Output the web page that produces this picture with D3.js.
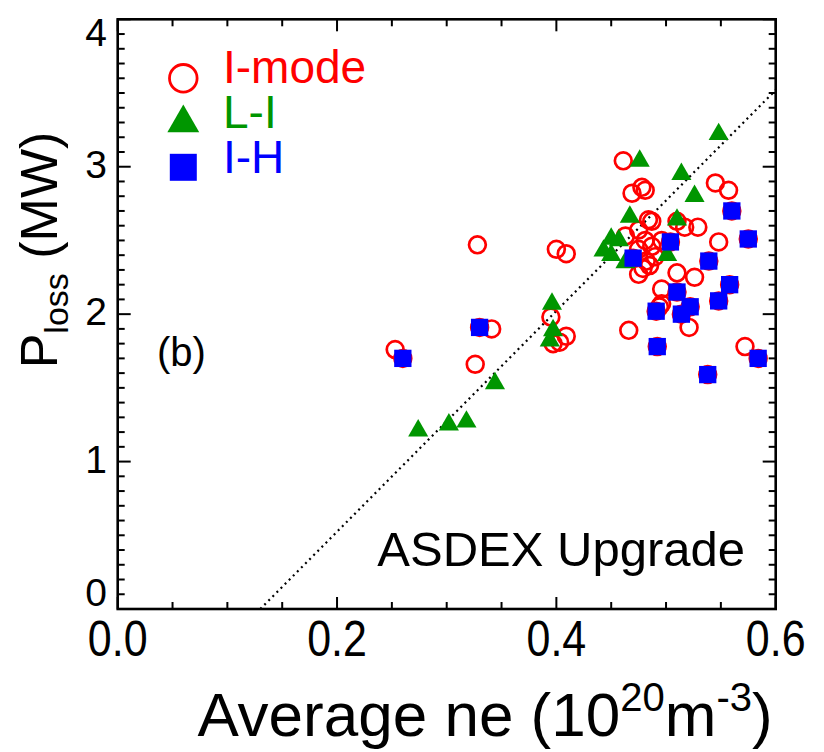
<!DOCTYPE html>
<html>
<head>
<meta charset="utf-8">
<script src="https://cdn.jsdelivr.net/npm/d3@7"></script>
<style>
  html, body { margin: 0; padding: 0; background: #fff; }
  svg { display: block; }
</style>
</head>
<body>
<svg id="chart" width="824" height="752"></svg>
<script>
// ---- Data ----
const imodeNe = [0.253,0.341,0.328,0.326,0.400,0.409,0.395,0.409,0.403,0.397,
  0.461,0.469,0.478,0.481,0.545,0.557,0.548,0.529,0.517,0.510,
  0.484,0.487,0.475,0.463,0.481,0.487,0.490,0.475,0.482,0.485,
  0.479,0.475,0.510,0.526,0.496,0.496,0.494,0.521,0.466,0.572,0.496,
  0.330,0.260,0.470,0.504,0.560,0.575,0.539,0.510,0.491,0.522,0.514,0.558,0.548,0.492,0.538,0.584];
const imodeP = [1.76,1.90,2.47,1.66,2.44,2.41,1.98,1.85,1.81,1.80,
  3.04,2.82,2.86,2.84,2.89,2.84,2.49,2.59,2.59,2.63,
  2.64,2.63,2.57,2.53,2.50,2.46,2.39,2.44,2.36,2.33,
  2.31,2.27,2.28,2.25,2.17,2.07,2.05,1.91,1.89,1.78,2.50,
  1.91,1.70,2.38,2.49,2.70,2.51,2.36,2.15,2.02,2.05,2.00,2.20,2.09,1.78,1.59,1.70];
const liNe = [0.548,0.476,0.514,0.526,0.467,0.510,0.450,0.457,0.443,0.450,
  0.463,0.501,0.396,0.397,0.394,0.344,0.274,0.302,0.318];
const liP = [3.22,3.04,2.95,2.80,2.66,2.64,2.51,2.50,2.43,2.40,
  2.35,2.40,2.07,1.89,1.82,1.53,1.21,1.25,1.27];
const ihNe = [0.330,0.260,0.470,0.504,0.560,0.575,0.539,0.510,0.491,0.522,0.514,0.558,0.548,0.492,0.538,0.584];
const ihP = [1.91,1.70,2.38,2.49,2.70,2.51,2.36,2.15,2.02,2.05,2.00,2.20,2.09,1.78,1.59,1.70];
const scalingNe = [0.130, 0.6];
const scalingP = [0, 3.52];
const xTickValues = [0.0, 0.2, 0.4, 0.6];
const xTickLabels = ["0.0", "0.2", "0.4", "0.6"];
const yTickValues = [0, 1, 2, 3, 4];
const yTickLabels = ["0", "1", "2", "3", "4"];
const legendLabels = ["I-mode", "L-I", "I-H"];
const seriesColors = ["#ff0000", "#009600", "#0000ff"];

(function draw() {
const svg = d3.select("#chart");
const pL = 117.7, pR = 775.7, pT = 19.3, pB = 609;
const x = d3.scaleLinear().domain([0, 0.6]).range([pL, pR]);
const y = d3.scaleLinear().domain([0, 4]).range([pB, pT]);
const FONT = "Liberation Sans, Arial, sans-serif";

svg.append("defs").append("clipPath").attr("id", "clip")
  .append("rect").attr("x", pL).attr("y", pT).attr("width", pR - pL).attr("height", pB - pT);

const plot = svg.append("g");

// scaling law dotted line
plot.append("path")
  .attr("clip-path", "url(#clip)")
  .datum(scalingNe.map((d, i) => [d, scalingP[i]]))
  .attr("d", d3.line().x(d => x(d[0])).y(d => y(d[1])))
  .attr("fill", "none").attr("stroke", "#000").attr("stroke-width", 2.2)
  .attr("stroke-dasharray", "2 3.8");

// I-mode circles
plot.append("g").selectAll("circle").data(imodeNe.map((d, i) => [d, imodeP[i]]))
  .join("circle")
  .attr("cx", d => x(d[0])).attr("cy", d => y(d[1])).attr("r", 8.4)
  .attr("fill", "none").attr("stroke", seriesColors[0]).attr("stroke-width", 2.7);

// L-I triangles
const triSym = d3.symbol().type(d3.symbolTriangle).size(175);
plot.append("g").selectAll("path").data(liNe.map((d, i) => [d, liP[i]]))
  .join("path")
  .attr("transform", d => `translate(${x(d[0])},${y(d[1])})`)
  .attr("d", triSym).attr("fill", seriesColors[1]);

// I-H squares
const sqSym = d3.symbol().type(d3.symbolSquare).size(300);
plot.append("g").selectAll("path").data(ihNe.map((d, i) => [d, ihP[i]]))
  .join("path")
  .attr("transform", d => `translate(${x(d[0])},${y(d[1])})`)
  .attr("d", sqSym).attr("fill", seriesColors[2]);

// ---- Axes (ticks inside, on all four sides) ----
const axG = svg.append("g").attr("stroke", "#000").attr("stroke-width", 2);
const xMinor = d3.range(0, 0.6001, 0.05);
const yMinor = d3.range(0, 4.0001, 0.1);
xMinor.forEach(v => {
  const major = Math.abs(Math.round(v / 0.2) * 0.2 - v) < 1e-6;
  const len = major ? 12 : 7;
  axG.append("line").attr("x1", x(v)).attr("x2", x(v)).attr("y1", pB).attr("y2", pB - len);
  axG.append("line").attr("x1", x(v)).attr("x2", x(v)).attr("y1", pT).attr("y2", pT + len);
});
yMinor.forEach(v => {
  const major = Math.abs(Math.round(v) - v) < 1e-6;
  const len = major ? 13 : 7;
  axG.append("line").attr("x1", pL).attr("x2", pL + len).attr("y1", y(v)).attr("y2", y(v));
  axG.append("line").attr("x1", pR).attr("x2", pR - len).attr("y1", y(v)).attr("y2", y(v));
});
svg.append("rect").attr("x", pL).attr("y", pT).attr("width", pR - pL).attr("height", pB - pT)
  .attr("fill", "none").attr("stroke", "#000").attr("stroke-width", 2.6);

// y tick labels
svg.append("g").selectAll("text").data(yTickValues)
  .join("text")
  .attr("x", 107).attr("y", d => Math.min(Math.max(y(d) - 3, pT + 13), pB - 17))
  .attr("dy", "0.36em")
  .attr("text-anchor", "end")
  .attr("font-family", FONT)
  .attr("font-size", 39)
  .text((d, i) => yTickLabels[i]);

// x tick labels
svg.append("g").selectAll("text").data(xTickValues)
  .join("text")
  .attr("transform", d => `translate(${x(d)},656) scale(0.86,1)`)
  .attr("text-anchor", "middle")
  .attr("font-family", FONT)
  .attr("font-size", 50)
  .text((d, i) => xTickLabels[i]);

// x title
const xt = svg.append("text")
  .attr("transform", "translate(485,736)")
  .attr("text-anchor", "middle")
  .attr("font-family", FONT)
  .attr("font-size", 62);
xt.append("tspan").text("Average ne (10");
xt.append("tspan").attr("dy", -25).attr("font-size", 40).text("20");
xt.append("tspan").attr("dy", 25).text("m");
xt.append("tspan").attr("dy", -25).attr("font-size", 40).text("-3");
xt.append("tspan").attr("dy", 25).text(")");

// y title
const yt = svg.append("text")
  .attr("transform", "translate(57,250) rotate(-90)")
  .attr("text-anchor", "middle")
  .attr("font-family", FONT)
  .attr("font-size", 52);
yt.append("tspan").text("P");
yt.append("tspan").attr("dy", 11).attr("font-size", 34).text("loss");
yt.append("tspan").attr("dy", -11).text(" (MW)");

// legend
const lg = svg.append("g");
lg.append("circle").attr("cx", 183.3).attr("cy", 78.3).attr("r", 13.8)
  .attr("fill", "none").attr("stroke", seriesColors[0]).attr("stroke-width", 2.8);
lg.append("path").attr("transform", "translate(183.3,123)")
  .attr("d", d3.symbol().type(d3.symbolTriangle).size(440)).attr("fill", seriesColors[1]);
lg.append("path").attr("transform", "translate(183.3,167.3)")
  .attr("d", d3.symbol().type(d3.symbolSquare).size(729)).attr("fill", seriesColors[2]);
const lgY = [83.3, 128.3, 172.7];
legendLabels.forEach((t, i) => {
  lg.append("text").attr("x", 223).attr("y", lgY[i])
    .attr("font-family", FONT).attr("font-size", 46)
    .attr("fill", seriesColors[i]).text(t);
});

// annotations
svg.append("text").attr("x", 157).attr("y", 366)
  .attr("font-family", FONT).attr("font-size", 40).text("(b)");
svg.append("text").attr("x", 745).attr("y", 566).attr("text-anchor", "end")
  .attr("font-family", FONT).attr("font-size", 49)
  .text("ASDEX Upgrade");
})();
</script>
</body>
</html>
